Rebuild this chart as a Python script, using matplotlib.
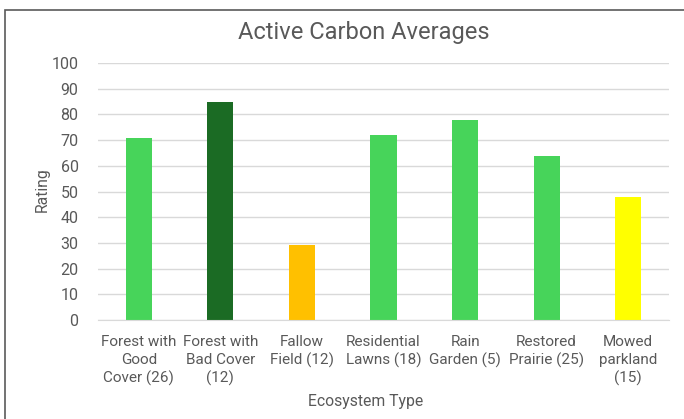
import matplotlib
matplotlib.use("Agg")
import matplotlib.pyplot as plt
from matplotlib.patches import Rectangle

# Active carbon averages per ecosystem type (sample counts in brackets)
categories = [
    "Forest with\nGood\nCover (26)",
    "Forest with\nBad Cover\n(12)",
    "Fallow\nField (12)",
    "Residential\nLawns (18)",
    "Rain\nGarden (5)",
    "Restored\nPrairie (25)",
    "Mowed\nparkland\n(15)",
]
ratings = [71, 85, 29, 72, 78, 64, 48]
bar_colors = ["#47d45a", "#1b6b24", "#ffc000", "#47d45a", "#47d45a", "#47d45a", "#ffff00"]

plt.rcParams["font.family"] = ["Roboto", "DejaVu Sans"]
text_color = "#595959"

fig = plt.figure(figsize=(6.84, 4.19), dpi=100)
ax = fig.add_axes([98 / 684, 1 - 320 / 419, 571 / 684, 257 / 419])

x = range(len(categories))
ax.bar(x, ratings, width=0.32, color=bar_colors, zorder=3)

ax.set_xlim(-0.5, len(categories) - 0.5)
ax.set_ylim(0, 100)
ax.set_yticks(range(0, 101, 10))
ax.set_xticks(list(x))
ax.set_xticklabels(categories, linespacing=1.32)
ax.tick_params(axis="both", length=0, colors=text_color, labelsize=11)
ax.tick_params(axis="y", labelsize=11.5, pad=14)
ax.tick_params(axis="x", pad=11)
for lbl in ax.get_xticklabels():
    lbl.set_verticalalignment("top")

ax.grid(axis="y", color="#d9d9d9", linewidth=1, zorder=0)
for side in ["top", "right", "left"]:
    ax.spines[side].set_visible(False)
ax.spines["bottom"].set_color("#d9d9d9")
ax.spines["bottom"].set_zorder(4)

fig.text(364 / 684, 1 - 32 / 419, "Active Carbon Averages", ha="center", va="center",
         fontsize=17, color=text_color)
fig.text(366 / 684, 1 - 401 / 419, "Ecosystem Type", ha="center", va="center",
         fontsize=11.3, color=text_color)
fig.text(42 / 684, 1 - 190 / 419, "Rating", ha="center", va="center", rotation=90,
         fontsize=11.3, color=text_color)

# chart frame, running off the right and bottom edges
fig.patches.append(Rectangle((5 / 684, -0.1), 1.2, 1.1 - 10 / 419, transform=fig.transFigure,
                             fill=False, edgecolor="#5a5a5a", linewidth=1.2))

fig.savefig("out.png", dpi=100)
